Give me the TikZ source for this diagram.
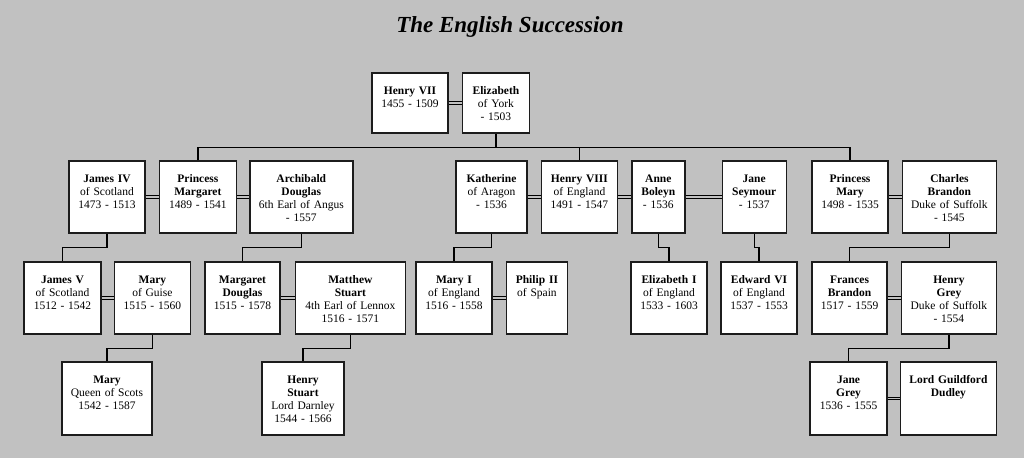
\documentclass[tikz,border=0pt]{standalone}
\usepackage{fontspec}
\setmainfont{Liberation Serif}
\usepackage{xcolor}
\definecolor{paper}   {HTML}{C1C1C1}
\definecolor{boxLine} {HTML}{1C1C1C}
\usetikzlibrary{positioning, calc}
\newcommand{\nm}[1]{\textbf{#1}}
\tikzset{
    person/.style={draw=boxLine, fill=white, line width=1.4pt, inner sep=0pt,
                   align=center, text height=21pt,
                   font=\fontsize{11.5}{13.1}\selectfont},
    gen1/.style={person, text depth=39pt},
    gen/.style={person, text depth=51pt},
    gen4/.style={person, text depth=52pt},
    descent/.style={-, line width=1.4pt, black},
    wed/.style={-, draw=black, line width=0.8pt, double=paper, double distance=1.5pt},
}

\begin{document}
\begin{tikzpicture}[x=1pt, y=-1pt]
    \path[use as bounding box, fill=paper] (0,0) rectangle (1024,458);
    \node[font=\fontsize{23}{26}\selectfont\bfseries\itshape] (title) at (510,27) {The English Succession};

    \node[gen1, text width=76pt] (hen7) at (410,103) {\nm{Henry VII}\\1455 - 1509};
    \node[gen1, text width=67pt, right=13pt of hen7] (eliz) {\nm{Elizabeth}\\of York\\- 1503};

    \node[gen, text width=76pt] (jam4) at (107,197) {\nm{James IV}\\of Scotland\\1473 - 1513};
    \node[gen, text width=77pt, right=13pt of jam4] (pmarg) {\nm{Princess}\\\nm{Margaret}\\1489 - 1541};
    \node[gen, text width=103pt, right=12pt of pmarg] (arch) {\nm{Archibald}\\\nm{Douglas}\\6th Earl of Angus\\- 1557};
    \node[gen, text width=71pt] (kath) at (491.5,197) {\nm{Katherine}\\of Aragon\\- 1536};
    \node[gen, text width=76pt, right=13pt of kath] (hen8) {\nm{Henry VIII}\\of England\\1491 - 1547};
    \node[gen, text width=53pt, right=13pt of hen8] (anne) {\nm{Anne}\\\nm{Boleyn}\\- 1536};
    \node[gen, text width=64pt, right=36pt of anne] (jane) {\nm{Jane}\\\nm{Seymour}\\- 1537};
    \node[gen, text width=76pt] (pmary) at (850,197) {\nm{Princess}\\\nm{Mary}\\1498 - 1535};
    \node[gen, text width=94pt, right=13pt of pmary] (chas) {\nm{Charles}\\\nm{Brandon}\\Duke of Suffolk\\- 1545};

    \node[gen, text width=77pt] (jam5) at (62.5,298) {\nm{James V}\\of Scotland\\1512 - 1542};
    \node[gen, text width=76pt, right=12pt of jam5] (guise) {\nm{Mary}\\of Guise\\1515 - 1560};
    \node[gen, text width=75pt] (mdoug) at (242.5,298) {\nm{Margaret}\\\nm{Douglas}\\1515 - 1578};
    \node[gen, text width=110pt, right=14pt of mdoug] (matt) {\nm{Matthew}\\\nm{Stuart}\\4th Earl of Lennox\\1516 - 1571};
    \node[gen, text width=76pt] (mary1) at (454,298) {\nm{Mary I}\\of England\\1516 - 1558};
    \node[gen, text width=61pt, right=13pt of mary1] (phil) {\nm{Philip II}\\of Spain};
    \node[gen, text width=76pt] (eliz1) at (669,298) {\nm{Elizabeth I}\\of England\\1533 - 1603};
    \node[gen, text width=76pt] (edw6) at (759,298) {\nm{Edward VI}\\of England\\1537 - 1553};
    \node[gen, text width=75pt] (fran) at (849.5,298) {\nm{Frances}\\\nm{Brandon}\\1517 - 1559};
    \node[gen, text width=95pt, right=13pt of fran] (hgrey) {\nm{Henry}\\\nm{Grey}\\Duke of Suffolk\\- 1554};

    \node[gen4, text width=90pt] (mqs) at (107,398.5) {\nm{Mary}\\Queen of Scots\\1542 - 1587};
    \node[gen4, text width=82pt] (hstu) at (303,398.5) {\nm{Henry}\\\nm{Stuart}\\Lord Darnley\\1544 - 1566};
    \node[gen4, text width=77pt] (jgrey) at (848.5,398.5) {\nm{Jane}\\\nm{Grey}\\1536 - 1555};
    \node[gen4, text width=96pt, right=12pt of jgrey] (dud) {\nm{Lord Guildford}\\\nm{Dudley}};

    % marriages
    \foreach \a/\b in {hen7/eliz, jam4/pmarg, pmarg/arch, kath/hen8, hen8/anne, anne/jane,
                       pmary/chas, jam5/guise, mdoug/matt, mary1/phil, fran/hgrey, jgrey/dud}
        \draw[wed] (\a) -- (\b);

    % children
    \coordinate (bar) at ($(eliz.south)+(0,14)$);
    \draw[descent] (eliz.south) -- (bar);
    \draw[descent] (pmarg.north) |- (bar) -| (pmary.north);
    \draw[descent] (hen8.north) -- (hen8.north |- bar);
    \foreach \p/\c in {jam4/jam5, arch/mdoug, kath/mary1, anne/eliz1, jane/edw6,
                       chas/fran, guise/mqs, matt/hstu, hgrey/jgrey}
        \draw[descent] (\p.south) -- ++(0,14) -| (\c.north);
\end{tikzpicture}
\end{document}
